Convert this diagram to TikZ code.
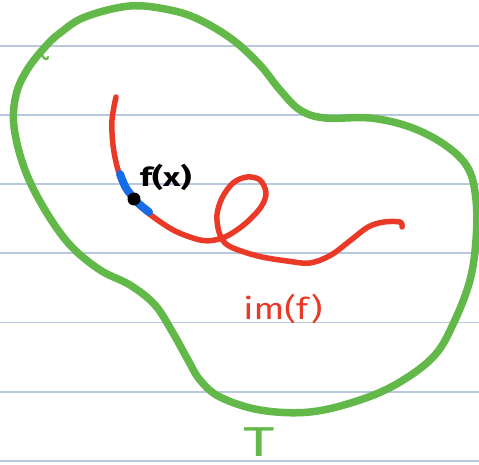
\documentclass[tikz,border=0pt]{standalone}
\usepackage{fontspec}
\setmainfont{Fira Sans}
\usetikzlibrary{positioning}

\definecolor{penGreen}{RGB}{98,184,72}
\definecolor{penRed}{RGB}{234,57,38}
\definecolor{penBlue}{RGB}{22,108,230}
\definecolor{ruleBlue}{RGB}{184,200,224}

\begin{document}
\begin{tikzpicture}[
    x=1pt, y=-1pt,
    ruling/.style={draw=ruleBlue, line width=1.4pt},
    setT/.style={draw=penGreen, line width=7.5pt, line cap=round, line join=round},
    image/.style={draw=penRed, line width=5.5pt, line cap=round, line join=round},
    nbhd/.style={draw=penBlue, line width=8pt, line cap=round},
    pt/.style={circle, fill=black, inner sep=0pt, minimum size=13pt},
    hand/.style={inner sep=0pt, font=\fontsize{26}{26}\selectfont}
  ]
  \useasboundingbox (0,0) rectangle (479,465);

  % Ruled paper
  \foreach \y in {46,115,184,253,322.5,392,461}
    \draw[ruling] (0,\y) -- (479,\y);

  % The set T
  \draw[setT] plot[smooth cycle, tension=0.6] coordinates {
    (27,70) (45,47) (60,33) (85,17) (130,6) (170,10) (200,20) (233,40)
    (260,65) (280,90) (300,110) (325,118) (370,118) (410,127) (445,145)
    (468,168) (476,200) (476,240) (470,280) (455,320) (435,355) (400,382)
    (360,400) (310,412) (260,410) (220,397) (200,380) (188,360) (173,333)
    (155,305) (130,285) (100,270) (70,245) (45,210) (25,170) (14,127) (16,95)};
  \draw[setT, line width=2.2pt] (42,55) .. controls (44,60) and (48,60) .. (48,57);

  % The image of f
  \draw[image] plot[smooth, tension=0.55] coordinates {
    (116,97) (112,120) (113,145) (118,170) (126,188) (137,203) (152,216)
    (175,231) (200,240) (215,240) (229,235) (246,223) (261,207) (266,193)
    (260,180) (247,177) (233,183) (222,198) (217,215) (219,232) (226,244)
    (241,251) (262,257) (287,261) (310,263) (331,255) (351,240) (368,227)
    (384,222) (400,222) (402,227)};

  % Neighbourhood of f(x)
  \draw[nbhd] plot[smooth] coordinates {(120,174) (126,188) (137,202) (149,212)};
  \node[pt] (fx) at (134,199) {};

  % Labels
  \node[hand, anchor=south west] (fxlabel) at (140,191) {\scalebox{1.3}[1]{\textbf{f(x)}}};
  \node[hand, text=penRed, font=\fontsize{30}{30}\selectfont] (imlabel) at (283,309)
    {\scalebox{1.2}[1]{im(f)}};
  \node[hand, text=penGreen, font=\fontsize{38}{38}\selectfont, anchor=base] (tlabel) at (259,456)
    {\scalebox{1.6}[1.1]{T}};
\end{tikzpicture}
\end{document}
